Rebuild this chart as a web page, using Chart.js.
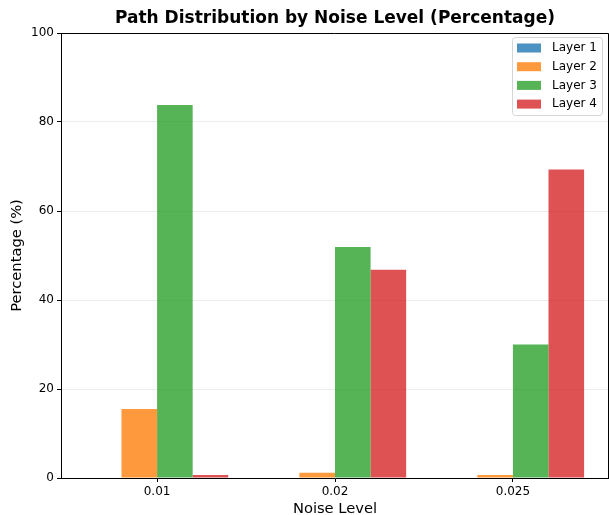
<!DOCTYPE html>
<html>
<head>
<meta charset="utf-8">
<script src="https://cdn.jsdelivr.net/npm/chart.js@4"></script>
<style>
  html, body { margin: 0; padding: 0; background: #fff; }
  #wrap { width: 609px; height: 515px; }
</style>
</head>
<body>
<div id="wrap"><canvas id="chart" width="609" height="515"></canvas></div>
<script>
// --- data ---
const noiseLabels = ['0.01', '0.02', '0.025'];
const layerNames = ['Layer 1', 'Layer 2', 'Layer 3', 'Layer 4'];
const layer1 = [0, 0, 0];
const layer2 = [15.5, 1.2, 0.7];
const layer3 = [83.8, 51.9, 30.0];
const layer4 = [0.7, 46.8, 69.3];
const yTicks = [0, 20, 40, 60, 80, 100];

const FONT = "'DejaVu Sans', sans-serif";
const colors = ['rgba(31,119,180,0.8)', 'rgba(255,127,14,0.8)', 'rgba(44,160,44,0.8)', 'rgba(214,39,40,0.8)'];

const series = [layer1, layer2, layer3, layer4];
const datasets = series.map((vals, i) => ({
    label: layerNames[i],
    data: vals.map((v, j) => ({ x: j, y: v })),
    backgroundColor: colors[i],
    borderWidth: 0,
    categoryPercentage: 0.8,
    barPercentage: 1.0
}));

// title, axis titles, frame and legend drawn matplotlib-style
const decorations = {
    id: 'decorations',
    afterDraw(chart) {
        const { ctx, chartArea: a } = chart;
        ctx.save();
        // top/right spines
        ctx.strokeStyle = '#000';
        ctx.lineWidth = 1;
        ctx.beginPath();
        ctx.moveTo(a.left, a.top + 0.5);
        ctx.lineTo(a.right - 0.5, a.top + 0.5);
        ctx.lineTo(a.right - 0.5, a.bottom);
        ctx.stroke();

        // title
        ctx.fillStyle = '#000';
        ctx.font = "bold 17px " + FONT;
        ctx.textAlign = 'center';
        ctx.textBaseline = 'middle';
        ctx.fillText('Path Distribution by Noise Level (Percentage)', (a.left + a.right) / 2, 19);

        // axis titles
        ctx.font = "14.7px " + FONT;
        ctx.fillText('Noise Level', (a.left + a.right) / 2, 509);
        ctx.save();
        ctx.translate(17, (a.top + a.bottom) / 2);
        ctx.rotate(-Math.PI / 2);
        ctx.fillText('Percentage (%)', 0, 0);
        ctx.restore();

        // legend
        const bx = 512.5, by = 37.5, bw = 90, bh = 78, r = 3;
        ctx.beginPath();
        ctx.moveTo(bx + r, by);
        ctx.arcTo(bx + bw, by, bx + bw, by + bh, r);
        ctx.arcTo(bx + bw, by + bh, bx, by + bh, r);
        ctx.arcTo(bx, by + bh, bx, by, r);
        ctx.arcTo(bx, by, bx + bw, by, r);
        ctx.closePath();
        ctx.fillStyle = 'rgba(255,255,255,0.8)';
        ctx.fill();
        ctx.strokeStyle = '#d5d5d5';
        ctx.stroke();
        ctx.font = "12px " + FONT;
        ctx.textAlign = 'left';
        chart.data.datasets.forEach((ds, i) => {
            const cy = 48 + i * 18.7;
            ctx.fillStyle = ds.backgroundColor;
            ctx.fillRect(517, cy - 4.5, 24, 9);
            ctx.fillStyle = '#000';
            ctx.fillText(ds.label, 552, cy);
        });
        ctx.restore();
    }
};

new Chart(document.getElementById('chart'), {
    type: 'bar',
    data: { datasets },
    options: {
        responsive: false,
        animation: false,
        layout: { padding: { top: 33, right: 0, left: 0, bottom: 0 } },
        plugins: {
            legend: { display: false },
            title: { display: false },
            tooltip: { enabled: false }
        },
        scales: {
            x: {
                type: 'linear',
                min: -0.54,
                max: 2.54,
                offset: false,
                afterBuildTicks: scale => { scale.ticks = noiseLabels.map((_, i) => ({ value: i })); },
                afterFit: scale => { scale.height = 37; },
                ticks: {
                    color: '#000',
                    font: { family: FONT, size: 12 },
                    padding: 3,
                    callback: v => noiseLabels[v]
                },
                grid: { offset: false, drawOnChartArea: false, drawTicks: true, tickLength: 4, tickColor: '#000' },
                border: { display: true, color: '#000' }
            },
            y: {
                min: 0,
                max: 100,
                afterBuildTicks: scale => { scale.ticks = yTicks.map(v => ({ value: v })); },
                afterFit: scale => { scale.width = 61; },
                ticks: {
                    color: '#000',
                    font: { family: FONT, size: 12 },
                    padding: 3
                },
                grid: { color: 'rgba(200,200,200,0.35)', tickLength: 4, tickColor: '#000' },
                border: { display: true, color: '#000' }
            }
        }
    },
    plugins: [decorations]
});
</script>
</body>
</html>
